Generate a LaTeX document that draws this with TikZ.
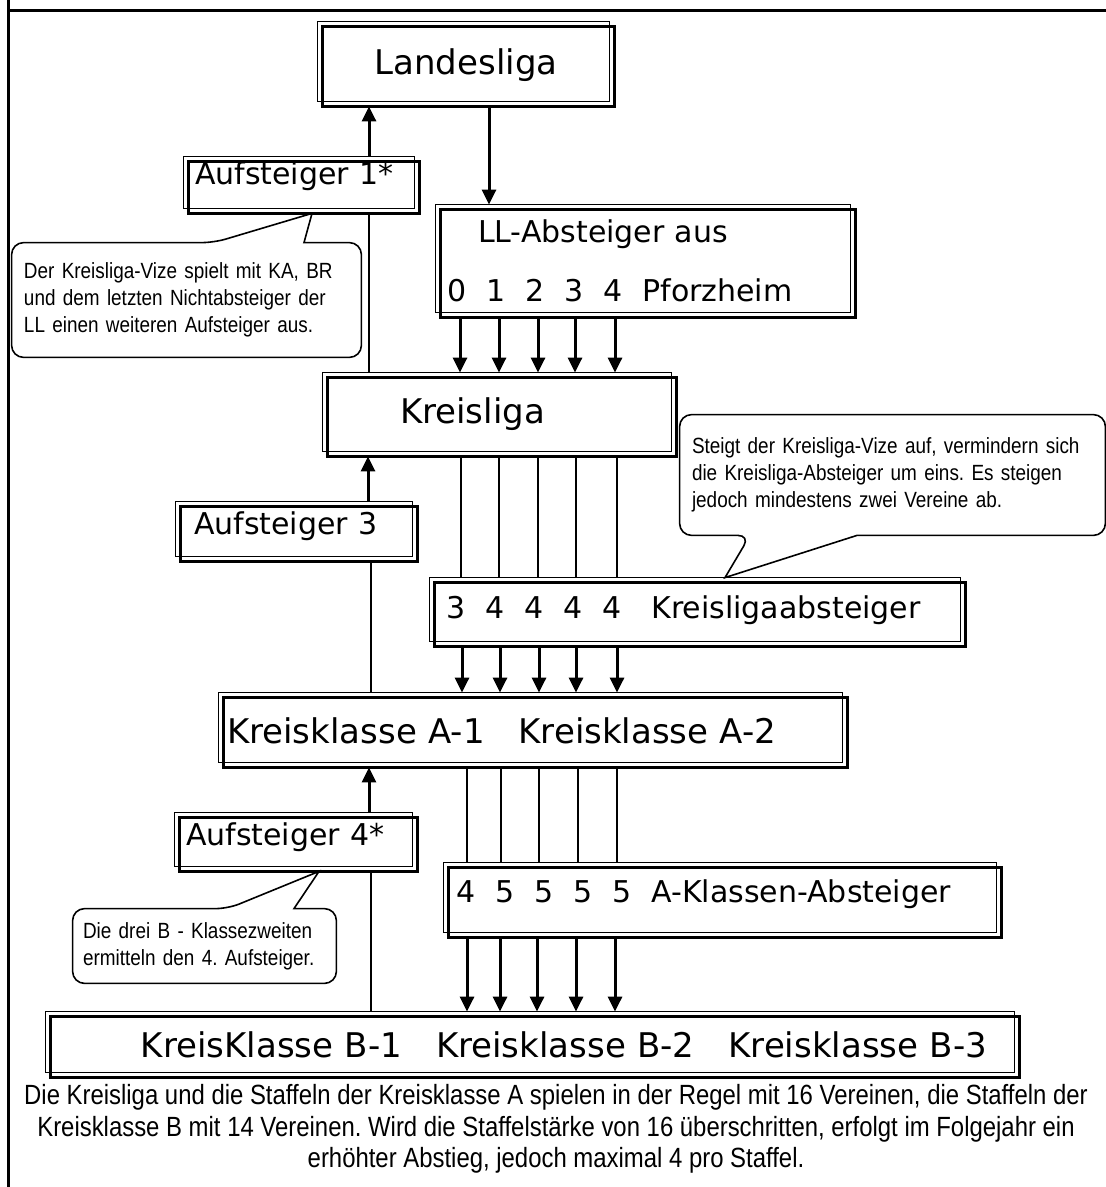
\documentclass[tikz,border=0pt]{standalone}
\usepackage{fontspec}
\newfontfamily\ligafont{DejaVu Sans}
\newfontfamily\notefont[FakeStretch=0.86]{Liberation Sans}
\usetikzlibrary{arrows.meta}
\frenchspacing

\begin{document}
\begin{tikzpicture}[
    x=0.5pt, y=-0.5pt,
    >={Triangle[length=7.5pt, width=7pt]},
    liga/.style={inner ysep=0pt, font=\ligafont\fontsize{17}{20}\selectfont,
        append after command={\pgfextra{
            \draw[line width=0.8pt] (\tikzlastnode.north west)
                rectangle ([shift={(-5,-5)}]\tikzlastnode.south east);
            \draw[line width=1.6pt] ([shift={(5,5)}]\tikzlastnode.north west)
                rectangle (\tikzlastnode.south east);}}},
    small/.style={font=\ligafont\fontsize{15}{18}\selectfont},
    bubble/.style={inner ysep=0pt, align=left,
        font=\notefont\fontsize{11}{13.5}\selectfont},
    outline/.style={line width=0.8pt},
    arr/.style={->, line width=1.5pt},
    link/.style={line width=0.8pt},
    frame/.style={line width=1.5pt},
]

% === Frame ===
\useasboundingbox (0,0) rectangle (1106,1187);
\draw[frame] (8,0) -- (8,1187);
\draw[frame] (8,11) -- (1106,11);

% === Leagues ===
\node[liga, minimum width=148pt, minimum height=42pt,
      text height=15.5pt, text depth=4.5pt] (land) at (466,64) {Landesliga};
\node[liga, minimum height=41.5pt, text width=99.5pt, inner xsep=38.5pt, align=left,
      text height=14.25pt, text depth=5.75pt] (kl) at (499.5,414.5) {Kreisliga};
\node[liga, minimum height=37pt, text width=306pt, inner xsep=4pt, align=left,
      text height=16.5pt, text depth=3.5pt] (ka) at (533,730)
     {Kreisklasse A-1~~ Kreisklasse A-2};
\node[liga, minimum height=32.5pt, text width=454.5pt, inner xsep=16pt, align=right,
      text height=16.25pt, text depth=3.75pt] (kb) at (532.5,1044.5)
     {KreisKlasse B-1~~ Kreisklasse B-2~~ Kreisklasse B-3};

% === Promotion ===
\node[liga, small, minimum height=28pt, text width=106.5pt, inner xsep=5.5pt, align=left,
      text height=10pt, text depth=10pt] (auf1) at (301.5,185) {Aufsteiger 1*};
\node[liga, small, minimum height=29.5pt, text width=102.5pt, inner xsep=9pt, align=left,
      text height=11.25pt, text depth=8.75pt] (auf3) at (296.5,531.5) {Aufsteiger 3};
\node[liga, small, minimum height=29pt, text width=110pt, inner xsep=5.5pt, align=left,
      text height=11.5pt, text depth=8.5pt] (auf4) at (296,842) {Aufsteiger 4*};

% === Relegation ===
\node[liga, font=\ligafont\fontsize{15}{29.5}\selectfont, minimum height=56pt,
      text width=198.5pt, inner xsep=5.5pt, align=left] (ll) at (645.5,261)
     {\hspace*{15.5pt}LL-Absteiger aus\\0~ 1~ 2~ 3~ 4~ Pforzheim};
\node[liga, small, minimum height=34pt, text width=251.5pt, inner xsep=8pt, align=left,
      text height=13pt, text depth=7pt] (kla) at (697.5,612)
     {3~ 4~ 4~ 4~ 4~~ Kreisligaabsteiger};
\node[liga, small, minimum height=37pt, text width=266.5pt, inner xsep=6pt, align=left,
      text height=11pt, text depth=9pt] (akl) at (722.5,900)
     {4~ 5~ 5~ 5~ 5~ A-Klassen-Absteiger};

% === Callouts ===
\node[bubble, text width=162.5pt, inner xsep=6pt, minimum height=57pt] (c1) at (186.5,300)
     {Der Kreisliga-Vize spielt mit KA, BR\\und dem letzten Nichtabsteiger der\\LL einen weiteren Aufsteiger aus.};
\node[bubble, text width=200.5pt, inner xsep=6pt, minimum height=60pt] (c2) at (892.5,475)
     {Steigt der Kreisliga-Vize auf, vermindern sich\\die Kreisliga-Absteiger um eins. Es steigen\\jedoch mindestens zwei Vereine ab.};
\node[bubble, text width=121.5pt, inner xsep=5pt, minimum height=37pt] (c3) at (204.5,946)
     {Die drei B - Klassezweiten\\ermitteln den 4. Aufsteiger.};

\coordinate (t1) at (auf1.south -| 312,0);
\coordinate (t2) at (kla.north -| 725,0);
\coordinate (t3) at (auf4.south -| 319,0);

\draw[outline] (c1.north -| 304,0) [rounded corners=6pt] -- (c1.north east) -- (c1.south east)
    -- (c1.south west) -- (c1.north west) -- (c1.north -| 214,0) [sharp corners] -- (t1) -- cycle;
\draw[outline] (c2.south -| 857,0) [rounded corners=6pt] -- (c2.south east) -- (c2.north east)
    -- (c2.north west) -- (c2.south west) -- (c2.south -| 750,0) [sharp corners] -- (t2) -- cycle;
\draw[outline] (c3.north -| 294,0) [rounded corners=6pt] -- (c3.north east) -- (c3.south east)
    -- (c3.south west) -- (c3.north west) -- (c3.north -| 228,0) [sharp corners] -- (t3) -- cycle;

% === Landesliga ===
\draw[arr] (auf1.north -| 369,0) -- (land.south -| 369,0);
\draw[arr] (land.south -| 489,0) -- (ll.north -| 489,0);
\draw[link] (auf1.south -| 369,0) -- (kl.north -| 369,0);

% LL-Absteiger -> Kreisliga
\draw[arr] (ll.south -| 460,0) -- (kl.north -| 460,0);
\draw[arr] (ll.south -| 499,0) -- (kl.north -| 499,0);
\draw[arr] (ll.south -| 538,0) -- (kl.north -| 538,0);
\draw[arr] (ll.south -| 575,0) -- (kl.north -| 575,0);
\draw[arr] (ll.south -| 615,0) -- (kl.north -| 615,0);

% === Kreisliga ===
\draw[arr] (auf3.north -| 368,0) -- (kl.south -| 368,0);
\draw[link] (auf3.south -| 371,0) -- (ka.north -| 371,0);
\draw[link] (kl.south -| 461,0) -- (kla.north -| 461,0);
\draw[link] (kl.south -| 499,0) -- (kla.north -| 499,0);
\draw[link] (kl.south -| 538,0) -- (kla.north -| 538,0);
\draw[link] (kl.south -| 576,0) -- (kla.north -| 576,0);
\draw[link] (kl.south -| 617,0) -- (kla.north -| 617,0);
\draw[arr] (kla.south -| 462,0) -- (ka.north -| 462,0);
\draw[arr] (kla.south -| 500,0) -- (ka.north -| 500,0);
\draw[arr] (kla.south -| 539,0) -- (ka.north -| 539,0);
\draw[arr] (kla.south -| 576,0) -- (ka.north -| 576,0);
\draw[arr] (kla.south -| 617,0) -- (ka.north -| 617,0);

% === Kreisklasse A ===
\draw[arr] (auf4.north -| 369,0) -- (ka.south -| 369,0);
\draw[link] (auf4.south -| 371,0) -- (kb.north -| 371,0);
\draw[link] (ka.south -| 467,0) -- (akl.north -| 467,0);
\draw[link] (ka.south -| 501,0) -- (akl.north -| 501,0);
\draw[link] (ka.south -| 539,0) -- (akl.north -| 539,0);
\draw[link] (ka.south -| 578,0) -- (akl.north -| 578,0);
\draw[link] (ka.south -| 617,0) -- (akl.north -| 617,0);
\draw[arr] (akl.south -| 467,0) -- (kb.north -| 467,0);
\draw[arr] (akl.south -| 500,0) -- (kb.north -| 500,0);
\draw[arr] (akl.south -| 537,0) -- (kb.north -| 537,0);
\draw[arr] (akl.south -| 576,0) -- (kb.north -| 576,0);
\draw[arr] (akl.south -| 615,0) -- (kb.north -| 615,0);

% === Rules ===
\node[font=\notefont\fontsize{13.9}{15.75}\selectfont, align=center] (rules) at (556,1129)
     {Die Kreisliga und die Staffeln der Kreisklasse A spielen in der Regel mit 16 Vereinen, die Staffeln der\\
      Kreisklasse B mit 14 Vereinen. Wird die Staffelstärke von 16 überschritten, erfolgt im Folgejahr ein\\
      erhöhter Abstieg, jedoch maximal 4 pro Staffel.};

\end{tikzpicture}
\end{document}
